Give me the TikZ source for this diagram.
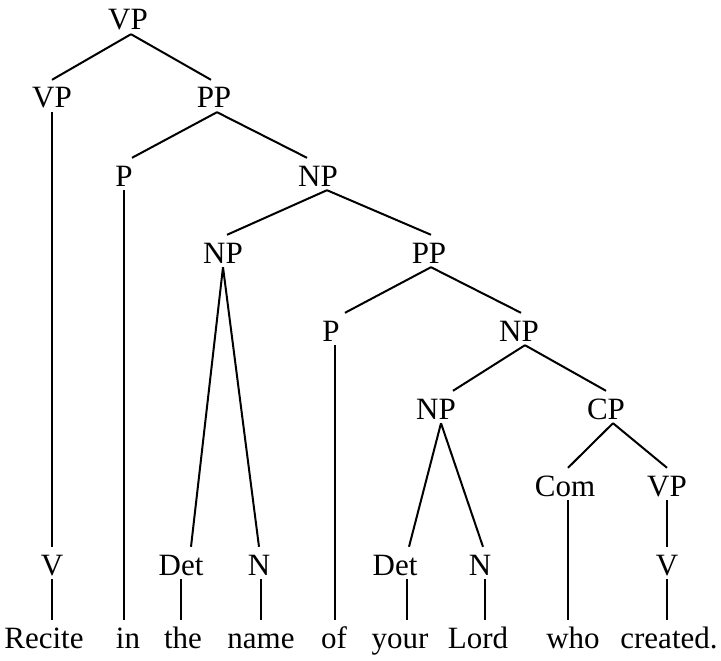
\documentclass[tikz,border=0pt]{standalone}
\usepackage{fontspec}
\setmainfont{Liberation Serif}

\begin{document}
\begin{tikzpicture}[
  x=1pt, y=-1pt,
  cat/.style={anchor=base, inner sep=0pt, text height=28pt, text depth=4pt, font=\fontsize{31}{36}\selectfont},
  word/.style={cat},
  branch/.style={line width=2pt}
]
\useasboundingbox (0,0) rectangle (721,661);

% phrase nodes
\node[cat] (vp0) at (128,30) {VP};
\node[cat] (vp1) at (52,108) {VP};
\node[cat] (pp1) at (214,108) {PP};
\node[cat] (p2) at (124,186) {P};
\node[cat] (np2) at (318,186) {NP};
\node[cat] (np3) at (223,263) {NP};
\node[cat] (pp3) at (429,263) {PP};
\node[cat] (p4) at (331,341) {P};
\node[cat] (np4) at (519,341) {NP};
\node[cat] (np5) at (436,419) {NP};
\node[cat] (cp) at (606,419) {CP};
\node[cat] (com) at (565,496) {Com};
\node[cat] (vp6) at (667,496) {VP};

% word classes
\node[cat] (v1) at (52,575) {V};
\node[cat] (det3) at (181,575) {Det};
\node[cat] (n3) at (259,575) {N};
\node[cat] (det5) at (395,575) {Det};
\node[cat] (n5) at (480,575) {N};
\node[cat] (v6) at (667,575) {V};

% the sentence
\node[word] (w1) at (44,648) {Recite};
\node[word] (w2) at (128,648) {in};
\node[word] (w3) at (183,648) {the};
\node[word] (w4) at (261,648) {name};
\node[word] (w5) at (334,648) {of};
\node[word] (w6) at (400,648) {your};
\node[word] (w7) at (478,648) {Lord};
\node[word] (w8) at (573,648) {who};
\node[word] (w9) at (669,648) {created.};

\draw[branch] ([xshift=3pt]vp0.south) -- (vp1.north);
\draw[branch] ([xshift=3pt]vp0.south) -- ([xshift=-3pt]pp1.north);
\draw[branch] (vp1.south) -- (v1.north);
\draw[branch] ([xshift=3pt]pp1.south) -- ([xshift=8pt]p2.north);
\draw[branch] ([xshift=3pt]pp1.south) -- ([xshift=-11pt]np2.north);
\draw[branch] ([xshift=9pt]np2.south) -- ([xshift=4pt]np3.north);
\draw[branch] ([xshift=9pt]np2.south) -- ([xshift=2pt]pp3.north);
\draw[branch] (np3.south) -- ([xshift=10pt]det3.north);
\draw[branch] (np3.south) -- (n3.north);
\draw[branch] ([xshift=2pt]pp3.south) -- ([xshift=14pt]p4.north);
\draw[branch] ([xshift=2pt]pp3.south) -- ([xshift=2pt]np4.north);
\draw[branch] ([xshift=6pt]np4.south) -- ([xshift=17pt]np5.north);
\draw[branch] ([xshift=6pt]np4.south) -- (cp.north);
\draw[branch] ([xshift=5pt]np5.south) -- ([xshift=14pt]det5.north);
\draw[branch] ([xshift=5pt]np5.south) -- ([xshift=3pt]n5.north);
\draw[branch] ([xshift=7pt]cp.south) -- ([xshift=3pt]com.north);
\draw[branch] ([xshift=7pt]cp.south) -- (vp6.north);
\draw[branch] (vp6.south) -- (v6.north);

% down to the words
\draw[branch] (v1.south) -- (v1.south |- w1.north);
\draw[branch] (p2.south) -- (p2.south |- w2.north);
\draw[branch] (det3.south) -- (det3.south |- w3.north);
\draw[branch] ([xshift=2pt]n3.south) -- ([xshift=2pt]n3.south |- w4.north);
\draw[branch] ([xshift=4pt]p4.south) -- ([xshift=4pt]p4.south |- w5.north);
\draw[branch] ([xshift=12pt]det5.south) -- ([xshift=12pt]det5.south |- w6.north);
\draw[branch] ([xshift=5pt]n5.south) -- ([xshift=5pt]n5.south |- w7.north);
\draw[branch] ([xshift=3pt]com.south) -- ([xshift=3pt]com.south |- w8.north);
\draw[branch] (v6.south) -- (v6.south |- w9.north);

\end{tikzpicture}
\end{document}
